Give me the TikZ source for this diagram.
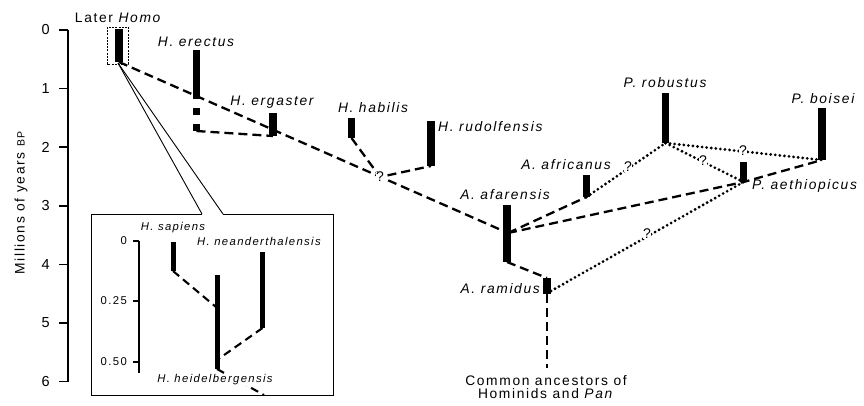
\documentclass[tikz,border=0pt]{standalone}
\usepackage{fontspec}
\setmainfont{Liberation Sans}[LetterSpace=12]
\begin{document}
\begin{tikzpicture}[x=1pt, y=-1pt,
  bar/.style={line width=7.5pt},
  ibar/.style={line width=5pt},
  dline/.style={line width=2.3pt, dash pattern=on 9pt off 5pt},
  idline/.style={line width=2.1pt, dash pattern=on 8pt off 5pt},
  dotl/.style={line width=3.1pt, dash pattern=on 0pt off 4.6pt, line cap=round},
  thin/.style={line width=0.9pt},
  lab/.style={font=\fontsize{13.8}{15}\selectfont\itshape, inner sep=0pt},
  plain/.style={font=\fontsize{13.8}{15}\selectfont, inner sep=0pt},
  ilab/.style={font=\fontsize{11.3}{12}\selectfont\itshape, inner sep=0pt},
  inum/.style={font=\fontsize{11.3}{12}\selectfont, inner sep=0pt, anchor=east},
  num/.style={font=\fontsize{14.5}{15}\selectfont, inner sep=0pt, anchor=east},
  qm/.style={font=\fontsize{14}{14}\selectfont, fill=white, inner sep=0.5pt}
]
\useasboundingbox (0,0) rectangle (864,405);

% ---------- time axis ----------
\coordinate (axT) at (68,30);
\coordinate (axB) at (68,382);
\draw[line width=1.7pt] (axT) -- (axB);
\foreach \k in {0,...,6}{
  \coordinate (tk\k) at (68,30+58.6*\k);
  \draw[line width=1.7pt] (tk\k) -- ++(-9,0);
  \node[num] (tl\k) at (50,30+58.6*\k) {\k};
}
\node[plain, rotate=90] (axtitle) at (21,203)
  {Millions of years {\fontsize{10.5}{10}\selectfont BP}};

% ---------- species ranges (coordinates) ----------
\coordinate (LHt) at (119,29);   \coordinate (LHb) at (119,62);
\coordinate (erT) at (196.5,50); \coordinate (erB) at (196.5,99);
\coordinate (erDt) at (196.5,108); \coordinate (erDb) at (196.5,131);
\coordinate (egT) at (273,113);  \coordinate (egB) at (273,136);
\coordinate (haT) at (351.5,118); \coordinate (haB) at (351.5,138);
\coordinate (ruT) at (431,121);  \coordinate (ruB) at (431,166);
\coordinate (afT) at (507,205);  \coordinate (afB) at (507,262);
\coordinate (afJ) at (508,233);
\coordinate (raT) at (547,278);  \coordinate (raB) at (547,294);
\coordinate (raR) at (551,291);
\coordinate (anc) at (547,368);
\coordinate (arT) at (586.5,175); \coordinate (arB) at (586.5,197);
\coordinate (roT) at (665.5,93);  \coordinate (roB) at (665.5,143);
\coordinate (boT) at (822,108);   \coordinate (boB) at (822,160);
\coordinate (aeT) at (743.5,162); \coordinate (aeB) at (743.5,182);

% ---------- connectors ----------
\draw[dline] (LHb) -- (afJ);
\draw[dline] (erDb) -- (egB);
\draw[dline] (haB) -- (380,177) -- (ruB);
\draw[dline] (afB) -- (raT);
\draw[dline] (raB) -- (anc);
\draw[dline] (afJ) -- (arB);
\draw[dline] (afJ) -- (aeB) -- (boB);
\draw[dotl] (arB) -- (roB);
\draw[dotl] (roB) -- (aeB);
\draw[dotl] (roB) -- (boB);
\draw[dotl] (raR) -- (aeB);

% ---------- range bars ----------
\draw[bar] (LHt) -- (LHb);
\draw[bar] (erT) -- (erB);
\draw[bar, dash pattern=on 7pt off 9pt] (erDt) -- (erDb);
\draw[bar] (egT) -- (egB);
\draw[bar] (haT) -- (haB);
\draw[bar] (ruT) -- (ruB);
\draw[bar] (afT) -- (afB);
\draw[bar] (raT) -- (raB);
\draw[bar] (arT) -- (arB);
\draw[bar] (roT) -- (roB);
\draw[bar] (boT) -- (boB);
\draw[bar] (aeT) -- (aeB);

% uncertain branch points
\node[qm] (q1) at (380,177) {?};
\node[qm] (q2) at (628,167) {?};
\node[qm] (q3) at (703,161) {?};
\node[qm] (q4) at (743,151) {?};
\node[qm] (q5) at (647,234) {?};

% ---------- labels ----------
\node[plain] (lLH) at (118.5,18) {Later \textit{Homo}};
\node[lab] (lEr) at (196,42) {H. erectus};
\node[lab] (lEg) at (272,102) {H. ergaster};
\node[lab] (lHa) at (373,108) {H. habilis};
\node[lab, anchor=west] (lRu) at (438,127) {H. rudolfensis};
\node[lab] (lAf) at (505,195) {A. afarensis};
\node[lab, anchor=east] (lRa) at (540,289) {A. ramidus};
\node[lab] (lAr) at (566,165) {A. africanus};
\node[lab] (lRo) at (665,83) {P. robustus};
\node[lab] (lBo) at (823,99) {P. boisei};
\node[lab, anchor=west] (lAe) at (752,186) {P. aethiopicus};
\node[plain, align=center] (lAnc) at (546,387)
  {Common ancestors of\\[-1.5pt] Hominids and \textit{Pan}};

% ---------- later Homo call-out ----------
\draw[thin, dash pattern=on 2pt off 1.2pt] (107,27) rectangle (128,64);
\coordinate (cA) at (118,63);
\coordinate (cL) at (202,214);
\coordinate (cR) at (223,214);
\draw[thin] (cA) -- (cL);
\draw[thin] (cA) -- (cR);
\draw[thin] (cL) -- (91,214) -- (91,395) -- (333,395) -- (333,214) -- (cR);

% inset axis
\draw[line width=1.4pt] (139,241) -- (139,373);
\draw[line width=1.4pt] (133,241) -- (139,241);
\draw[line width=1.4pt] (133,301) -- (139,301);
\draw[line width=1.4pt] (133,362) -- (139,362);
\node[inum] (i0) at (127,241) {0};
\node[inum] (i1) at (127,301) {0.25};
\node[inum] (i2) at (127,362) {0.50};

% inset ranges
\coordinate (saT) at (173,242); \coordinate (saB) at (173,271);
\coordinate (heT) at (217,275); \coordinate (heB) at (217,369);
\coordinate (heJ1) at (216,307); \coordinate (heJ2) at (217,360);
\coordinate (neT) at (262.5,252); \coordinate (neB) at (262.5,328);
\coordinate (heX) at (264,395);
\draw[idline] (saB) -- (heJ1);
\draw[idline] (neB) -- (heJ2);
\draw[idline] (heB) -- (heX);
\draw[ibar] (saT) -- (saB);
\draw[ibar] (heT) -- (heB);
\draw[ibar] (neT) -- (neB);
\node[ilab] (lSa) at (173,228) {H. sapiens};
\node[ilab, anchor=west] (lNe) at (197,241) {H. neanderthalensis};
\node[ilab, fill=white, inner sep=1pt] (lHe) at (215,380) {H. heidelbergensis};
\end{tikzpicture}
\end{document}
